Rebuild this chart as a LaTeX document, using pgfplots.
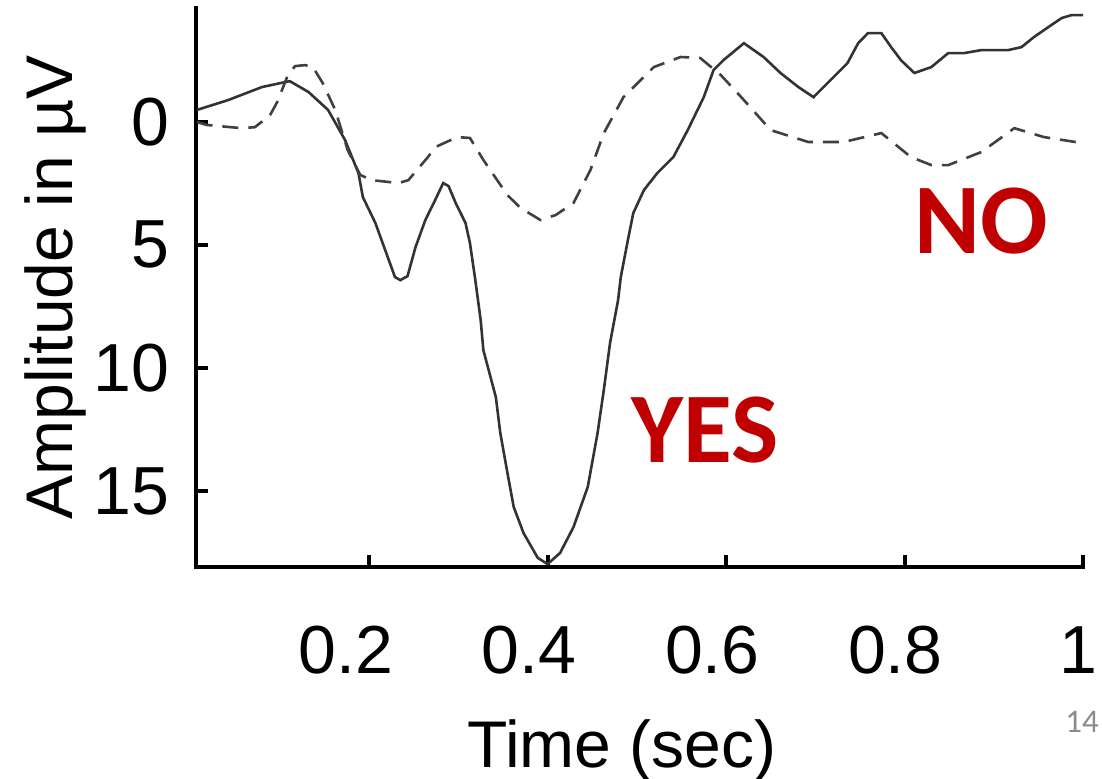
\documentclass[border=0pt]{standalone}
\usepackage{pgfplots}
\pgfplotsset{compat=1.18}
\usepackage{fontspec}
\setmainfont{Liberation Sans}
\newfontfamily\calibri{Carlito}
\definecolor{pptred}{HTML}{C00000}
\begin{document}
\begin{tikzpicture}
\begin{axis}[
  at={(98pt,106pt)}, anchor=south west,
  scale only axis, width=443.5pt, height=279.5pt,
  xmin=0.006, xmax=1, ymin=-4.62, ymax=18.08,
  y dir=reverse,
  axis x line*=bottom, axis y line*=left,
  axis line style={line width=2.3pt, line cap=rect},
  xtick={0.2,0.4,0.6,0.8,1}, ytick={0,5,10,15},
  tick align=inside, major tick length=6pt,
  tick style={line width=2pt, black},
  /pgf/number format/assume math mode=true,
  tick label style={font=\fontsize{34}{40}\selectfont, inner sep=0pt},
  xticklabel={\pgfmathsetmacro{\sh}{2*(-11.5+2.3*\ticknum)}\hspace*{\sh pt}\pgfmathprintnumber{\tick}},
  xticklabel style={anchor=north, yshift=-29.5pt},
  yticklabel style={anchor=east, xshift=-13pt},
  xlabel={Time (sec)}, ylabel={Amplitude in µV},
  label style={font=\fontsize{33}{40}\selectfont},
  xlabel style={at={(axis description cs:0.4803,-0.3578)}, anchor=base},
  ylabel style={at={(axis description cs:-0.1387,0.5)}, anchor=base},
]
% YES (solid)
\addplot[black!80, line width=1.3pt] coordinates {
(0.007,-0.48) (0.042,-0.88) (0.080,-1.41) (0.111,-1.65) (0.132,-1.21)
(0.154,-0.48) (0.173,0.74) (0.188,2.08) (0.193,3.06) (0.207,4.11)
(0.218,5.21) (0.229,6.31) (0.235,6.43) (0.243,6.27) (0.252,5.09)
(0.263,3.99) (0.274,3.18) (0.283,2.49) (0.289,2.61) (0.297,3.30)
(0.308,4.11) (0.313,4.93) (0.319,6.43) (0.325,8.05) (0.328,9.27)
(0.342,11.18) (0.347,12.64) (0.355,14.26) (0.362,15.64) (0.373,16.70)
(0.389,17.71) (0.400,17.96) (0.414,17.51) (0.429,16.46) (0.445,14.83)
(0.456,12.64) (0.463,10.89) (0.470,8.98) (0.479,7.24) (0.482,6.31)
(0.490,4.80) (0.496,3.71) (0.508,2.77) (0.523,2.08) (0.541,1.43)
(0.557,0.34) (0.575,-1.00) (0.586,-2.10) (0.597,-2.50) (0.620,-3.19)
(0.642,-2.63) (0.661,-1.98) (0.681,-1.41) (0.698,-1.00) (0.717,-1.69)
(0.736,-2.38) (0.748,-3.19) (0.759,-3.60) (0.774,-3.60) (0.785,-3.03)
(0.796,-2.50) (0.811,-1.98) (0.830,-2.22) (0.849,-2.79) (0.867,-2.79)
(0.886,-2.91) (0.916,-2.91) (0.931,-3.03) (0.945,-3.44) (0.961,-3.84)
(0.976,-4.21) (0.987,-4.33) (1.000,-4.33)
};
% NO (dashed)
\addplot[black!75, line width=1.3pt, dash pattern=on 8pt off 5pt] coordinates {
(0.007,0.01) (0.018,0.13) (0.057,0.26) (0.072,0.22) (0.089,-0.27)
(0.097,-0.80) (0.109,-1.90) (0.117,-2.26) (0.128,-2.30) (0.137,-2.22)
(0.148,-1.57) (0.162,-0.48) (0.176,1.15) (0.190,2.16) (0.203,2.37)
(0.233,2.49) (0.244,2.37) (0.266,1.43) (0.274,1.03) (0.299,0.62)
(0.313,0.66) (0.328,1.55) (0.355,2.98) (0.370,3.51) (0.392,3.99)
(0.409,3.79) (0.429,3.30) (0.448,1.96) (0.463,0.46) (0.485,-1.00)
(0.519,-2.22) (0.549,-2.63) (0.571,-2.59) (0.594,-1.90) (0.620,-0.88)
(0.650,0.34) (0.692,0.82) (0.732,0.82) (0.774,0.46) (0.807,1.43)
(0.830,1.76) (0.849,1.76) (0.886,1.23) (0.923,0.26) (0.956,0.62)
(0.998,0.86)
};
\node[font=\calibri\bfseries\fontsize{50}{60}\selectfont, text=pptred] at (axis cs:0.576,12.52) {YES};
\node[font=\calibri\bfseries\fontsize{50}{60}\selectfont, text=pptred] at (axis cs:0.886,4.03) {NO};
\end{axis}
\node[font=\calibri\fontsize{16.5}{20}\selectfont, text=black!45] at (541pt,28.5pt) {14};
\pgfresetboundingbox
\path[use as bounding box] (0,0) rectangle (551pt,389.5pt);
\end{tikzpicture}
\end{document}
